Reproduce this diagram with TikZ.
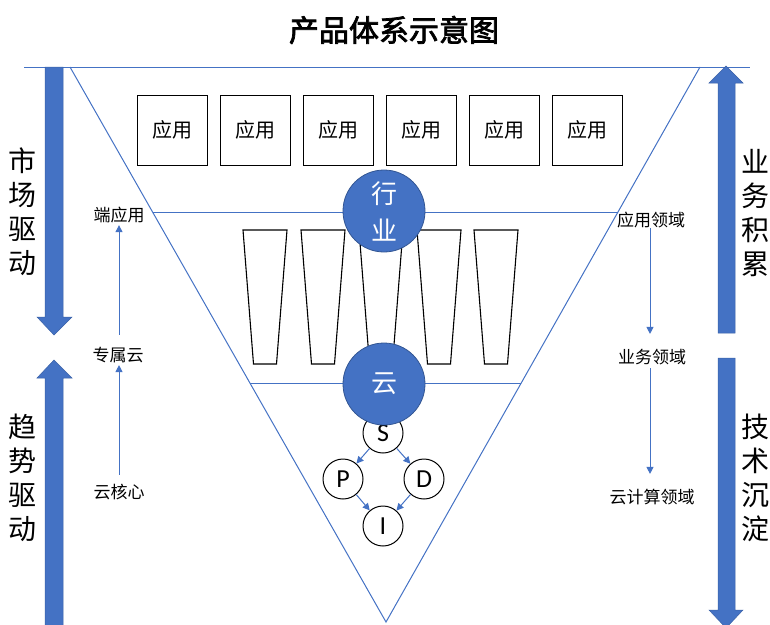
\documentclass[tikz,border=0pt]{standalone}
\usepackage{fontspec}
\setmainfont{Noto Sans CJK SC}
\newfontfamily\titlef[AutoFakeBold=2.5]{Noto Sans CJK SC}
\newfontfamily\latinf{Carlito}
\usetikzlibrary{arrows.meta,calc}
\definecolor{ablue}{HTML}{4472C4}
\begin{document}
\begin{tikzpicture}[x=1pt,y=-1pt,
  appbox/.style={draw=black, line width=1pt, minimum width=70pt, minimum height=70pt, inner sep=0pt, font=\fontsize{20}{24}\selectfont},
  bigcirc/.style={circle, fill=ablue, draw=ablue!75!black, line width=0.8pt, minimum size=82pt, inner sep=0pt, text=white, align=center},
  letter/.style={circle, draw=black, fill=white, line width=1pt, minimum size=40pt, inner sep=0pt, font=\latinf\fontsize{26}{26}\selectfont},
  lbl/.style={font=\fontsize{17}{20}\selectfont, inner sep=0pt},
  vlbl/.style={font=\fontsize{28}{34}\selectfont, align=center, inner sep=0pt},
  thinline/.style={draw=ablue, line width=1pt},
  trap/.style={draw=black, line width=1.1pt, fill=white},
  sarrow/.style={draw=ablue, line width=1pt, -{Triangle[length=7pt,width=7pt]}},
  bigarrow/.style={fill=ablue, draw=ablue!85!black, line width=0.5pt}]
\useasboundingbox (0,0) rectangle (770,624);

% title
\node (title) at (394,30) {\titlef\fontsize{30}{34}\selectfont\bfseries 产品体系示意图};

% triangle and lines
\coordinate (TL) at (70,67);
\coordinate (TR) at (700,67);
\coordinate (AP) at (386,622);
\coordinate (LL) at (24,67);
\coordinate (LR) at (750,67);
\draw[thinline] (LL) -- (LR);
\draw[thinline] (TL) -- (AP) -- (TR);
\coordinate (H1L) at ($(TL)!0.2613!(AP)$);
\coordinate (H1R) at ($(TR)!0.2613!(AP)$);
\coordinate (H2L) at ($(TL)!0.5694!(AP)$);
\coordinate (H2R) at ($(TR)!0.5694!(AP)$);
\draw[thinline] (H1L) -- (H1R);
\draw[thinline] (H2L) -- (H2R);

% application boxes
\foreach \i/\x in {1/172,2/255,3/338,4/421,5/504,6/587}
  \node[appbox] (app\i) at (\x,130) {应用};

% trapezoids
\foreach \i/\x in {1/265,2/323,3/381,4/439,5/496}
  \draw[trap] (\x-22,230) -- (\x+22,230) -- (\x+11.5,364) -- (\x-11.5,364) -- cycle;

% SPDI
\node[letter] (S) at (383,433) {S};
\node[letter] (P) at (343,479) {P};
\node[letter] (D) at (424,479) {D};
\node[letter] (I) at (383,526) {I};
\draw[sarrow] (S) -- (P);
\draw[sarrow] (S) -- (D);
\draw[sarrow] (P) -- (I);
\draw[sarrow] (D) -- (I);

% big circles
\node[bigcirc, font=\fontsize{26}{37}\selectfont] (hy) at (384,211) {行\\业};
\node[bigcirc, font=\fontsize{26}{30}\selectfont] (yun) at (384,384) {云};

% big arrows
\fill[bigarrow] (45,67) -- (63,67) -- (63,317) -- (72,317) -- (54,335) -- (37,317) -- (45,317) -- cycle;
\fill[bigarrow] (45,630) -- (63,630) -- (63,378) -- (72,378) -- (54,360) -- (37,378) -- (45,378) -- cycle;
\fill[bigarrow] (718,333) -- (735,333) -- (735,83) -- (743,83) -- (726,66) -- (709,83) -- (718,83) -- cycle;
\fill[bigarrow] (718,358) -- (735,358) -- (735,610) -- (743,610) -- (726,628) -- (709,610) -- (718,610) -- cycle;

% vertical labels
\node[vlbl] (scqd) at (23,212) {市\\场\\驱\\动};
\node[vlbl] (qsqd) at (23,478) {趋\\势\\驱\\动};
\node[vlbl] (ywjl) at (755,213) {业\\务\\积\\累};
\node[vlbl] (jscd) at (755,478) {技\\术\\沉\\淀};

% small labels
\node[lbl] (dyy) at (119,215) {端应用};
\node[lbl] (zsy) at (118,355) {专属云};
\node[lbl] (yhx) at (119,492) {云核心};
\node[lbl] (yyly) at (651,220) {应用领域};
\node[lbl] (ywly) at (652,357) {业务领域};
\node[lbl] (yjsly) at (652,497) {云计算领域};

\draw[sarrow, shorten >=2pt, shorten <=9pt] (yhx.north -| 119,0) -- (zsy.south -| 119,0);
\draw[sarrow, shorten >=2pt, shorten <=12pt] (zsy.north -| 119,0) -- (dyy.south -| 119,0);
\draw[sarrow, shorten >=15pt, shorten <=0pt] (yyly.south -| 650,0) -- (ywly.north -| 650,0);
\draw[sarrow, shorten >=15pt, shorten <=3pt] (ywly.south -| 650,0) -- (yjsly.north -| 650,0);
\end{tikzpicture}
\end{document}
